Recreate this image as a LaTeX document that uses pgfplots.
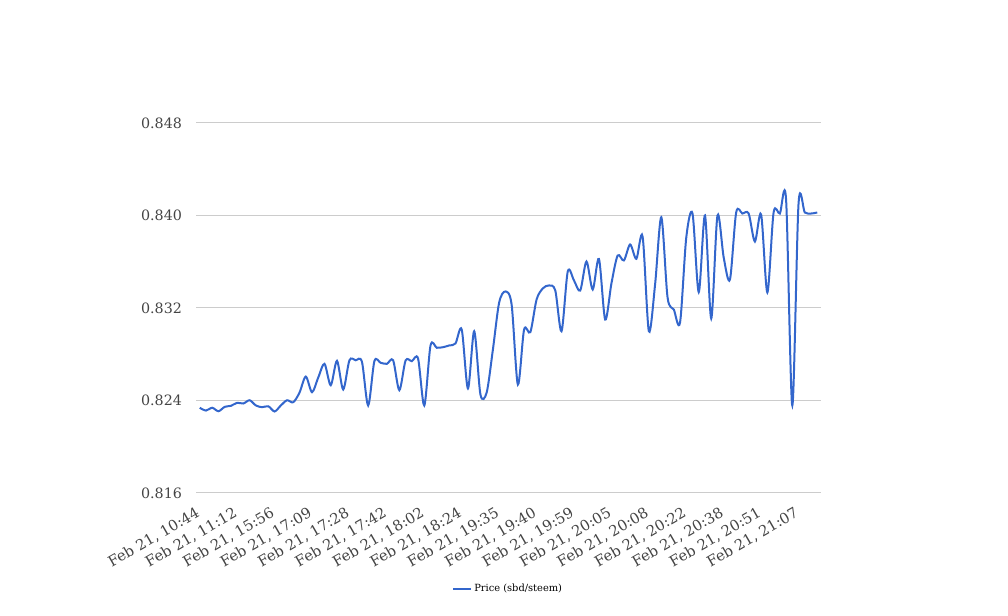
\documentclass[border=0pt]{standalone}
\usepackage{fontspec}
\setmainfont{DejaVu Serif}
\usepackage{pgfplots}
\pgfplotsset{compat=1.18}
\definecolor{lineblue}{HTML}{3366CC}
\definecolor{gridgray}{HTML}{CCCCCC}
\definecolor{labelgray}{HTML}{444444}
\begin{document}
\begin{tikzpicture}
\path[use as bounding box] (0,0) rectangle (756pt,462pt);
\begin{axis}[
  at={(147pt,92.25pt)}, anchor=south west,
  scale only axis, width=468.75pt, height=277.5pt,
  xmin=-0.6, xmax=99.6,
  ymin=0.816, ymax=0.848,
  ytick={0.816,0.824,0.832,0.840,0.848},
  yticklabel style={/pgf/number format/.cd, fixed, fixed zerofill, precision=3, /tikz/.cd, font=\fontsize{10.7pt}{12pt}\selectfont, text=labelgray, xshift=-7pt},
  /pgf/number format/assume math mode=true,
  xtick={0,6,...,96},
  xticklabels={{Feb 21, 10:44},{Feb 21, 11:12},{Feb 21, 15:56},{Feb 21, 17:09},{Feb 21, 17:28},{Feb 21, 17:42},{Feb 21, 18:02},{Feb 21, 18:24},{Feb 21, 19:35},{Feb 21, 19:40},{Feb 21, 19:59},{Feb 21, 20:05},{Feb 21, 20:08},{Feb 21, 20:22},{Feb 21, 20:38},{Feb 21, 20:51},{Feb 21, 21:07}},
  xticklabel style={xshift=-3.2pt, yshift=-8.5pt, rotate=30, anchor=north east, font=\fontsize{11pt}{12pt}\selectfont, text=labelgray, inner sep=1pt},
  ymajorgrids, major grid style={gridgray, line width=0.75pt},
  axis line style={draw=none},
  major tick length=0pt,
  legend style={at={(0.5,-0.259)}, anchor=center, draw=none, fill=none, font=\fontsize{7.4pt}{8pt}\selectfont, legend cell align=left},
  legend image code/.code={\draw[#1, line width=1.5pt] (0pt,0pt) -- (13pt,0pt);},
]
\addplot[lineblue, line width=1.5pt, smooth, tension=0.5] coordinates {
(0,0.82337)(1,0.82313)(2,0.82337)(3,0.82307)(4,0.82345)(5,0.82354)(6,0.82380)(7,0.82374)(8,0.82402)(9,0.82357)
(10,0.82342)(11,0.82350)(12,0.82305)(13,0.82357)(14,0.82402)(15,0.82385)(16,0.82469)(17,0.82607)(18,0.82472)(19,0.82599)
(20,0.82717)(21,0.82532)(22,0.82743)(23,0.82495)(24,0.82748)(25,0.82748)(26,0.82735)(27,0.82357)(28,0.82740)(29,0.82726)
(30,0.82717)(31,0.82748)(32,0.82489)(33,0.82746)(34,0.82740)(35,0.82763)(36,0.82357)(37,0.82876)(38,0.82856)(39,0.82861)
(40,0.82876)(41,0.82893)(42,0.83014)(43,0.82504)(44,0.82999)(45,0.82452)(46,0.82469)(47,0.82841)(48,0.83247)(49,0.83343)
(50,0.83230)(51,0.82538)(52,0.83014)(53,0.82991)(54,0.83273)(55,0.83369)(56,0.83395)(57,0.83351)(58,0.82999)(59,0.83516)
(60,0.83438)(61,0.83351)(62,0.83602)(63,0.83360)(64,0.83624)(65,0.83100)(66,0.83412)(67,0.83654)(68,0.83611)(69,0.83749)
(70,0.83625)(71,0.83818)(72,0.82999)(73,0.83403)(74,0.83985)(75,0.83291)(76,0.83187)(77,0.83074)(78,0.83810)(79,0.84017)
(80,0.83337)(81,0.84000)(82,0.83109)(83,0.84000)(84,0.83637)(85,0.83446)(86,0.84026)(87,0.84017)(88,0.84017)(89,0.83775)
(90,0.84009)(91,0.83334)(92,0.84026)(93,0.84017)(94,0.84138)(95,0.82357)(96,0.84104)(97,0.84026)(98,0.84017)(99,0.84026)
};
\addlegendentry{Price (sbd/steem)}
\end{axis}
\end{tikzpicture}
\end{document}
